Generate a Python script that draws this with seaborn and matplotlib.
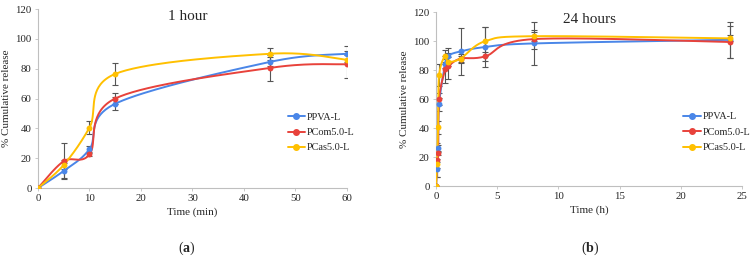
import numpy as np
import pandas as pd
import matplotlib
matplotlib.use("Agg")
import matplotlib.pyplot as plt
from matplotlib.lines import Line2D
import seaborn as sns

# ---------------- data ----------------
series = ["PPVA-L", "PCom5.0-L", "PCas5.0-L"]
colors = ["#4a86e8", "#e8423b", "#ffc000"]

t_min = [0, 5, 10, 15, 45, 60]
ppva_1h = [0, 11.5, 26, 56.5, 84.5, 90]
pcom_1h = [0, 18, 22.5, 60, 80.5, 83]
pcas_1h = [0, 15.5, 40.5, 76.5, 90, 86]
ppva_1h_err = [0, 5, 2, 4.5, 3, 5.5]
pcom_1h_err = [0, 12, 1, 4, 9, 9]
pcas_1h_err = [0, 3, 4.5, 7.5, 4, 3]

t_h = [0, 0.083, 0.167, 0.25, 0.75, 1, 2, 4, 8, 24]
ppva_24h = [0, 11.5, 26, 56.5, 84.5, 90, 93, 96, 98.5, 101]
pcom_24h = [0, 18, 22.5, 60, 80.5, 83, 88, 89.5, 101.5, 99.5]
pcas_24h = [0, 15.5, 40.5, 76.5, 90, 86, 88, 100, 103.5, 102]
ppva_24h_err = [0, 5, 2, 4.5, 3, 5.5, 16, 14, 15, 12.5]
pcom_24h_err = [0, 12, 1, 4, 9, 9, 3, 3, 6.5, 11]
pcas_24h_err = [0, 3, 4.5, 7.5, 4, 3, 2, 10, 3, 2]


def smooth(x, y, n=40):
    """Excel-style smoothed line (cubic Bezier, Catmull-Rom tangents)."""
    x = np.asarray(x, float)
    y = np.asarray(y, float)
    P = np.column_stack([x, y])
    out = []
    m = len(P)
    for i in range(m - 1):
        p0 = P[i - 1] if i > 0 else P[i]
        p1 = P[i]
        p2 = P[i + 1]
        p3 = P[i + 2] if i + 2 < m else P[i + 1]
        c1 = p1 + (p2 - p0) / 6.0
        c2 = p2 - (p3 - p1) / 6.0
        t = np.linspace(0, 1, n)[:, None]
        seg = ((1 - t) ** 3) * p1 + 3 * ((1 - t) ** 2) * t * c1 + 3 * (1 - t) * t ** 2 * c2 + t ** 3 * p2
        out.append(seg if i == 0 else seg[1:])
    return np.vstack(out)


sns.set_style("white")
plt.rcParams["font.family"] = ["Liberation Serif", "DejaVu Serif"]
plt.rcParams["mathtext.fontset"] = "custom"
plt.rcParams["mathtext.rm"] = "Liberation Serif"
plt.rcParams["mathtext.bf"] = "Liberation Serif:bold"

fig = plt.figure(figsize=(7.51, 2.62), dpi=100)
ax1 = fig.add_axes([0.0506, 0.2824, 0.4114, 0.6832])
ax2 = fig.add_axes([0.5806, 0.290, 0.4074, 0.663])


def draw(ax, t, ys, errs, xlim, xticks, xlabel, title, title_x):
    for name, y, e, c in zip(series, ys, errs, colors):
        curve = smooth(t, y)
        dfc = pd.DataFrame({"x": curve[:, 0], "y": curve[:, 1]})
        sns.lineplot(data=dfc, x="x", y="y", ax=ax, color=c, lw=1.4,
                     sort=False, estimator=None, zorder=3)
        ax.errorbar(t, y, yerr=e, fmt="none", ecolor="#555555",
                    elinewidth=0.8, capsize=2, capthick=0.8, zorder=2)
        dfp = pd.DataFrame({"x": t, "y": y})
        sns.scatterplot(data=dfp, x="x", y="y", ax=ax, color=c, s=18,
                        edgecolor=c, linewidth=0, zorder=4)
    ax.set_xlim(*xlim)
    ax.set_ylim(0, 120)
    ax.set_xticks(xticks)
    ax.set_yticks(np.arange(0, 121, 20))
    ax.set_xlabel(xlabel, fontsize=8, labelpad=3)
    ax.set_ylabel("% Cumulative release", fontsize=8, labelpad=3)
    ax.tick_params(axis="both", labelsize=7.8, length=2.5, width=0.6,
                   color="#bfbfbf", pad=2, direction="out")
    ax.tick_params(axis="x", bottom=True)
    ax.tick_params(axis="y", left=True)
    for s in ["top", "right"]:
        ax.spines[s].set_visible(False)
    for s in ["left", "bottom"]:
        ax.spines[s].set_color("#bfbfbf")
        ax.spines[s].set_linewidth(0.8)
    ax.text(title_x, 115, title, fontsize=11, ha="center", va="center")
    handles = [Line2D([0], [0], color=c, lw=1.4, marker="o", markersize=4)
               for c in colors]
    ax.legend(handles, series, loc="center left", bbox_to_anchor=(0.795, 0.31),
              frameon=False, fontsize=7.4, handlelength=1.7, handletextpad=0.15,
              labelspacing=0.6, borderaxespad=0)


draw(ax1, t_min, [ppva_1h, pcom_1h, pcas_1h],
     [ppva_1h_err, pcom_1h_err, pcas_1h_err],
     (0, 60), np.arange(0, 61, 10), "Time (min)", "1 hour", 29)
draw(ax2, t_h, [ppva_24h, pcom_24h, pcas_24h],
     [ppva_24h_err, pcom_24h_err, pcas_24h_err],
     (0, 25), np.arange(0, 26, 5), "Time (h)", "24 hours", 12.5)

fig.text(187 / 751, 1 - 248 / 262, r"($\mathbf{a}$)", ha="center", va="center", fontsize=10)
fig.text(590 / 751, 1 - 248 / 262, r"($\mathbf{b}$)", ha="center", va="center", fontsize=10)

fig.savefig("out.png", dpi=100)
